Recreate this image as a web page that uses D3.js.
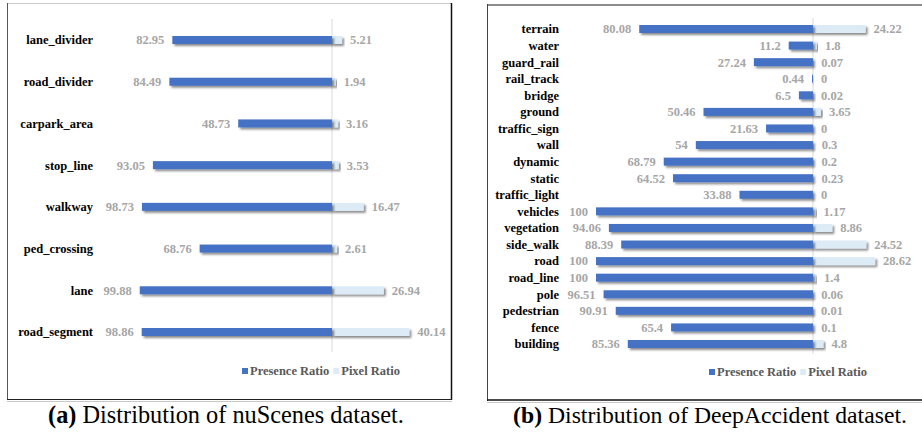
<!DOCTYPE html>
<html><head><meta charset="utf-8">
<script src="https://cdn.jsdelivr.net/npm/d3@7"></script>
<style>body{margin:0;background:#fff}svg{display:block}</style>
</head><body>
<svg id="c" width="922" height="432"></svg>
<script>
// ---- data: panel (a) nuScenes ----
const catsA = ["lane_divider","road_divider","carpark_area","stop_line","walkway","ped_crossing","lane","road_segment"];
const presenceA = [82.95,84.49,48.73,93.05,98.73,68.76,99.88,98.86];
const pixelA = [5.21,1.94,3.16,3.53,16.47,2.61,26.94,40.14];
// ---- data: panel (b) DeepAccident ----
const catsB = ["terrain","water","guard_rail","rail_track","bridge","ground","traffic_sign","wall","dynamic","static","traffic_light","vehicles","vegetation","side_walk","road","road_line","pole","pedestrian","fence","building"];
const presenceB = [80.08,11.2,27.24,0.44,6.5,50.46,21.63,54,68.79,64.52,33.88,100,94.06,88.39,100,100,96.51,90.91,65.4,85.36];
const pixelB = [24.22,1.8,0.07,0,0.02,3.65,0,0.3,0.2,0.23,0,1.17,8.86,24.52,28.62,1.4,0.06,0.01,0.1,4.8];
const seriesNames = ["Presence Ratio","Pixel Ratio"];
const captions = [["(a)"," Distribution of nuScenes dataset."],["(b)"," Distribution of DeepAccident dataset."]];

const svg = d3.select("#c");
const defs = svg.append("defs");
const f = defs.append("filter").attr("id","sh").attr("x","-10%").attr("y","-50%").attr("width","130%").attr("height","250%");
f.append("feDropShadow").attr("dx",2).attr("dy",2).attr("stdDeviation",1.2).attr("flood-color","#000").attr("flood-opacity",0.45);

const C_PRES = "#4472C4", C_PIX = "#DDEBF7", C_VAL = "#A6A6A6", C_LEG = "#595959";
const SERIF = "Liberation Serif";

function panel(cfg){
  const g = svg.append("g");
  const x = d3.scaleLinear().domain([-100,100]).range([cfg.cx - 100*cfg.k, cfg.cx + 100*cfg.k]);
  const y = d3.scalePoint().domain(cfg.cats).range([cfg.y0, cfg.y1]);
  const rows = cfg.cats.map((c,i)=>({c, p:cfg.pres[i], q:cfg.pix[i]}));
  g.append("line").attr("x1",x(0)).attr("x2",x(0)).attr("y1",cfg.ay0).attr("y2",cfg.ay1)
    .attr("stroke","#d9d9d9").attr("stroke-width",1);
  const bh = cfg.bh;
  g.selectAll(".q").data(rows).join("rect")
    .attr("x",x(0)).attr("y",d=>y(d.c)-bh/2).attr("width",d=>x(d.q)-x(0)).attr("height",bh)
    .attr("fill",C_PIX).attr("filter","url(#sh)");
  g.selectAll(".p").data(rows).join("rect")
    .attr("x",d=>x(-d.p)).attr("y",d=>y(d.c)-bh/2).attr("width",d=>x(0)-x(-d.p)).attr("height",bh)
    .attr("fill",C_PRES).attr("filter","url(#sh)");
  const txt = (sel)=>sel.style("font-family",SERIF).style("font-weight","bold").style("font-size",cfg.fs+"px");
  g.selectAll(".cl").data(rows).join("text")
    .attr("x",cfg.lx).attr("y",d=>y(d.c)).attr("dy","0.35em").attr("text-anchor","end")
    .call(txt).attr("fill","#000").text(d=>d.c);
  g.selectAll(".vl").data(rows).join("text")
    .attr("x",d=>x(-d.p)-8).attr("y",d=>y(d.c)).attr("dy","0.35em").attr("text-anchor","end")
    .call(txt).attr("fill",C_VAL).text(d=>d.p);
  g.selectAll(".vr").data(rows).join("text")
    .attr("x",d=>x(d.q)+8).attr("y",d=>y(d.c)).attr("dy","0.35em").attr("text-anchor","start")
    .call(txt).attr("fill",C_VAL).text(d=>d.q);
  // legend
  const lg = g.append("g").attr("transform",`translate(${cfg.legX},${cfg.legY})`);
  lg.append("rect").attr("x",0).attr("y",-3).attr("width",6).attr("height",6).attr("fill",C_PRES);
  const t1 = lg.append("text").attr("x",8).attr("dy","0.35em").call(txt).attr("fill",C_LEG).text(seriesNames[0]);
  const w1 = t1.node().getComputedTextLength();
  lg.append("rect").attr("x",8+w1+4).attr("y",-3).attr("width",6).attr("height",6).attr("fill",C_PIX);
  lg.append("text").attr("x",8+w1+12).attr("dy","0.35em").call(txt).attr("fill",C_LEG).text(seriesNames[1]);
  // caption
  const cap = svg.append("text").attr("x",cfg.capX).attr("y",423).attr("text-anchor","middle")
    .style("font-family",SERIF).style("font-size","17px").attr("fill","#000");
  cap.append("tspan").style("font-weight","bold").text(cfg.cap[0]);
  cap.append("tspan").text(cfg.cap[1]);
  const w = cap.node().getComputedTextLength();
  cap.style("font-size",(17*cfg.capW/w).toFixed(2)+"px");
}

// panel a frame
svg.append("line").attr("x1",7).attr("x2",452).attr("y1",3.5).attr("y2",3.5).attr("stroke","#c8c8c8");
svg.append("line").attr("x1",7.5).attr("x2",7.5).attr("y1",3).attr("y2",400).attr("stroke","#555");
svg.append("line").attr("x1",451.5).attr("x2",451.5).attr("y1",3).attr("y2",400).attr("stroke","#111").attr("stroke-width",1.5);
svg.append("line").attr("x1",7).attr("x2",452).attr("y1",399.5).attr("y2",399.5).attr("stroke","#222");
svg.append("line").attr("x1",7).attr("x2",452).attr("y1",401.5).attr("y2",401.5).attr("stroke","#c8c8c8");
// panel b frame
svg.append("line").attr("x1",487).attr("x2",922).attr("y1",5).attr("y2",5).attr("stroke","#666").attr("stroke-width",1.5);
svg.append("line").attr("x1",487.5).attr("x2",487.5).attr("y1",4).attr("y2",401).attr("stroke","#444");
svg.append("line").attr("x1",487).attr("x2",922).attr("y1",400).attr("y2",400).attr("stroke","#111").attr("stroke-width",1.5);
svg.append("line").attr("x1",487).attr("x2",922).attr("y1",402.5).attr("y2",402.5).attr("stroke","#c8c8c8");

panel({cats:catsA,pres:presenceA,pix:pixelA,cx:332,k:1.925,y0:40,y1:332,ay0:19,ay1:352,bh:8,lx:93,fs:12.5,
  legX:242,legY:371,capX:226,capW:356,cap:captions[0]});
panel({cats:catsB,pres:presenceB,pix:pixelB,cx:813,k:2.17,y0:29,y1:344,ay0:18,ay1:354,bh:8,lx:559,fs:12.5,
  legX:709,legY:372,capX:710,capW:394,cap:captions[1]});
</script>
</body></html>
